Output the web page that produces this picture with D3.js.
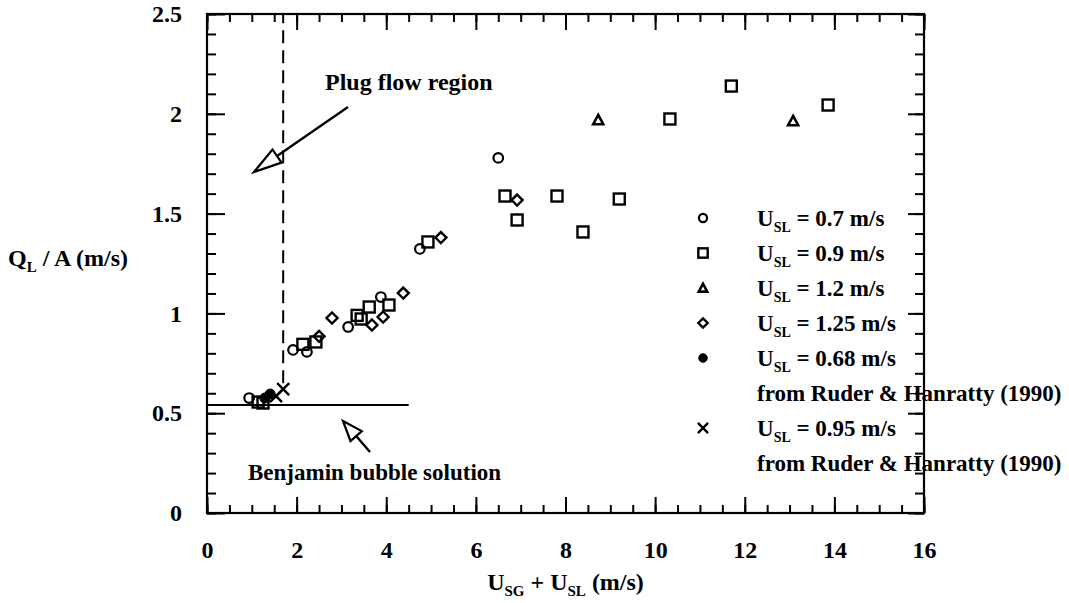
<!DOCTYPE html>
<html><head><meta charset="utf-8">
<script src="https://cdn.jsdelivr.net/npm/d3@7"></script>
<style>
body{margin:0;background:#fff;}
svg{display:block;}
text{font-family:"Liberation Serif","Times New Roman",serif;font-weight:bold;fill:#000;}
</style></head>
<body>
<svg id="c" width="1069" height="603"></svg>
<script>
// ---- data ----
const xMajorTicks = [0,2,4,6,8,10,12,14,16];
const yMajorTicks = [0,0.5,1,1.5,2,2.5];
const yTickLabels = ["0","0.5","1","1.5","2","2.5"];
const circ07 = [[0.94,0.576],[1.92,0.817],[2.23,0.807],[3.15,0.932],[3.88,1.082],[4.75,1.323],[6.5,1.779]];
const sq09 = [[1.14,0.556],[1.25,0.551],[2.14,0.845],[2.43,0.857],[3.35,0.99],[3.44,0.972],[3.62,1.032],[4.06,1.042],[4.93,1.358],[6.65,1.588],[6.92,1.468],[7.81,1.588],[8.39,1.408],[9.2,1.573],[10.33,1.974],[11.7,2.139],[13.86,2.044]];
const tri12 = [[8.73,1.969],[13.08,1.964]];
const dia125 = [[2.5,0.885],[2.79,0.977],[3.68,0.942],[3.93,0.982],[4.38,1.102],[5.22,1.38],[6.92,1.568]];
const filled068 = [[1.29,0.576],[1.41,0.596]];
const cross095 = [[1.54,0.586],[1.70,0.621]];
const benjaminLine = [[0,0.541],[4.5,0.541]];
const plugBoundary = [[1.7,0.65],[1.7,2.5]];
const legendItems = [
  {sym:"circle", v:"0.7"},
  {sym:"square", v:"0.9"},
  {sym:"triangle", v:"1.2"},
  {sym:"diamond", v:"1.25"},
  {sym:"filled", v:"0.68", note:"from Ruder & Hanratty (1990)"},
  {sym:"cross", v:"0.95", note:"from Ruder & Hanratty (1990)"}
];

// ---- layout ----
const svg = d3.select("#c");
const x = d3.scaleLinear().domain([0,16]).range([207,924]);
const y = d3.scaleLinear().domain([0,2.5]).range([513,14]);
const g = svg.append("g");

function styleAxis(sel){
  sel.select(".domain").remove();
  sel.selectAll("line").attr("stroke","#000").attr("stroke-width",2);
}
const xMinor = d3.range(0,16.01,0.5);
const yMinor = d3.range(0,2.501,0.1).map(v=>+v.toFixed(2));
g.append("g").attr("transform",`translate(0,${y(0)})`)
  .call(d3.axisBottom(x).tickValues(xMinor).tickSize(-8).tickFormat("")).call(styleAxis);
g.append("g").attr("transform",`translate(0,${y(0)})`)
  .call(d3.axisBottom(x).tickValues(xMajorTicks).tickSize(-16).tickPadding(28).tickFormat(d3.format("d")))
  .call(styleAxis)
  .selectAll("text").attr("font-size",24).attr("font-family","Liberation Serif").attr("font-weight","bold");
g.append("g").attr("transform",`translate(0,${y(2.5)})`)
  .call(d3.axisTop(x).tickValues(xMinor).tickSize(-8).tickFormat("")).call(styleAxis);
g.append("g").attr("transform",`translate(0,${y(2.5)})`)
  .call(d3.axisTop(x).tickValues(xMajorTicks).tickSize(-16).tickFormat("")).call(styleAxis);
g.append("g").attr("transform",`translate(${x(0)},0)`)
  .call(d3.axisLeft(y).tickValues(yMinor).tickSize(-9).tickFormat("")).call(styleAxis);
g.append("g").attr("transform",`translate(${x(0)},0)`)
  .call(d3.axisLeft(y).tickValues(yMajorTicks).tickSize(-18).tickPadding(25).tickFormat((d,i)=>yTickLabels[i]))
  .call(styleAxis)
  .selectAll("text").attr("font-size",24).attr("font-family","Liberation Serif").attr("font-weight","bold");
g.append("g").attr("transform",`translate(${x(16)},0)`)
  .call(d3.axisRight(y).tickValues(yMinor).tickSize(-9).tickFormat("")).call(styleAxis);
g.append("g").attr("transform",`translate(${x(16)},0)`)
  .call(d3.axisRight(y).tickValues(yMajorTicks).tickSize(-16).tickFormat("")).call(styleAxis);
g.append("rect").attr("x",x(0)).attr("y",y(2.5)).attr("width",x(16)-x(0)).attr("height",y(0)-y(2.5))
  .attr("fill","none").attr("stroke","#000").attr("stroke-width",2.2);

// reference lines
const line = d3.line().x(d=>x(d[0])).y(d=>y(d[1]));
g.append("path").attr("d",line(benjaminLine)).attr("stroke","#000").attr("stroke-width",2).attr("fill","none");
g.append("path").attr("d",line(plugBoundary)).attr("stroke","#000").attr("stroke-width",2)
  .attr("stroke-dasharray","13,7").attr("fill","none");

// markers
function drawSym(sel, type, s){
  s = s||1;
  if(type==="circle"){
    sel.append("circle").attr("r",4.8*s).attr("fill","none").attr("stroke","#000").attr("stroke-width",2.2);
  } else if(type==="filled"){
    sel.append("circle").attr("r",5*s).attr("fill","#000").attr("stroke","#000").attr("stroke-width",1);
  } else if(type==="square"){
    const h=5.5*s;
    sel.append("rect").attr("x",-h).attr("y",-h).attr("width",2*h).attr("height",2*h)
      .attr("fill","none").attr("stroke","#000").attr("stroke-width",2.4);
  } else if(type==="diamond"){
    const h=5.5*s;
    sel.append("path").attr("d",`M0,${-h}L${h},0L0,${h}L${-h},0Z`).attr("fill","none").attr("stroke","#000").attr("stroke-width",2.4);
  } else if(type==="triangle"){
    const h=5*s;
    sel.append("path").attr("d",`M0,${-h}L${h},${h*0.85}L${-h},${h*0.85}Z`).attr("fill","none").attr("stroke","#000").attr("stroke-width",2.6);
  } else if(type==="cross"){
    const h=6*s;
    sel.append("path").attr("d",`M${-h},${-h}L${h},${h}M${-h},${h}L${h},${-h}`).attr("stroke","#000").attr("stroke-width",2.4);
  }
}
function series(data,type){
  g.append("g").selectAll("g").data(data).join("g")
    .attr("transform",d=>`translate(${x(d[0])},${y(d[1])})`)
    .each(function(){drawSym(d3.select(this),type);});
}
series(sq09,"square");
series(circ07,"circle");
series(dia125,"diamond");
series(tri12,"triangle");
series(filled068,"filled");
series(cross095,"cross");

// axis titles
const yt = svg.append("text").attr("x",8).attr("y",266).attr("font-size",24);
yt.append("tspan").text("Q");
yt.append("tspan").attr("font-size",15).attr("dy",6).text("L");
yt.append("tspan").attr("dy",-6).text(" / A (m/s)");
const xt = svg.append("text").attr("x",x(8)).attr("y",590).attr("font-size",24).attr("text-anchor","middle");
xt.append("tspan").text("U");
xt.append("tspan").attr("font-size",15).attr("dy",6).text("SG");
xt.append("tspan").attr("dy",-6).text(" + U");
xt.append("tspan").attr("font-size",15).attr("dy",6).text("SL");
xt.append("tspan").attr("dy",-6).text(" (m/s)");

// annotations
svg.append("text").attr("x",325).attr("y",90).attr("font-size",24).text("Plug flow region");
svg.append("text").attr("x",248).attr("y",480).attr("font-size",23).text("Benjamin bubble solution");
function openArrow(x1,y1,x2,y2,len,wid){
  const a = Math.atan2(y2-y1,x2-x1);
  const bx = x2 - len*Math.cos(a), by = y2 - len*Math.sin(a);
  const px = -Math.sin(a)*wid/2, py = Math.cos(a)*wid/2;
  svg.append("path").attr("d",`M${x1},${y1}L${bx},${by}`).attr("stroke","#000").attr("stroke-width",2.4).attr("fill","none");
  svg.append("path").attr("d",`M${x2},${y2}L${bx+px},${by+py}L${bx-px},${by-py}Z`).attr("stroke","#000").attr("stroke-width",2.2).attr("fill","#fff");
}
openArrow(348,107,254,172,28,16);
openArrow(370,452,343,421,20,15);

// legend
const lg = svg.append("g");
legendItems.forEach((it,i)=>{
  const rowY = 218 + i*35 + (i>=5?35:0);
  const s = lg.append("g").attr("transform",`translate(703,${rowY})`);
  drawSym(s,it.sym,0.85);
  const t = lg.append("text").attr("x",757).attr("y",rowY+8).attr("font-size",23);
  t.append("tspan").text("U");
  t.append("tspan").attr("font-size",14).attr("dy",6).text("SL");
  t.append("tspan").attr("dy",-6).text(` = ${it.v} m/s`);
  if(it.note){
    lg.append("text").attr("x",757).attr("y",rowY+35+8).attr("font-size",23).text(it.note);
  }
});
</script>
</body></html>
